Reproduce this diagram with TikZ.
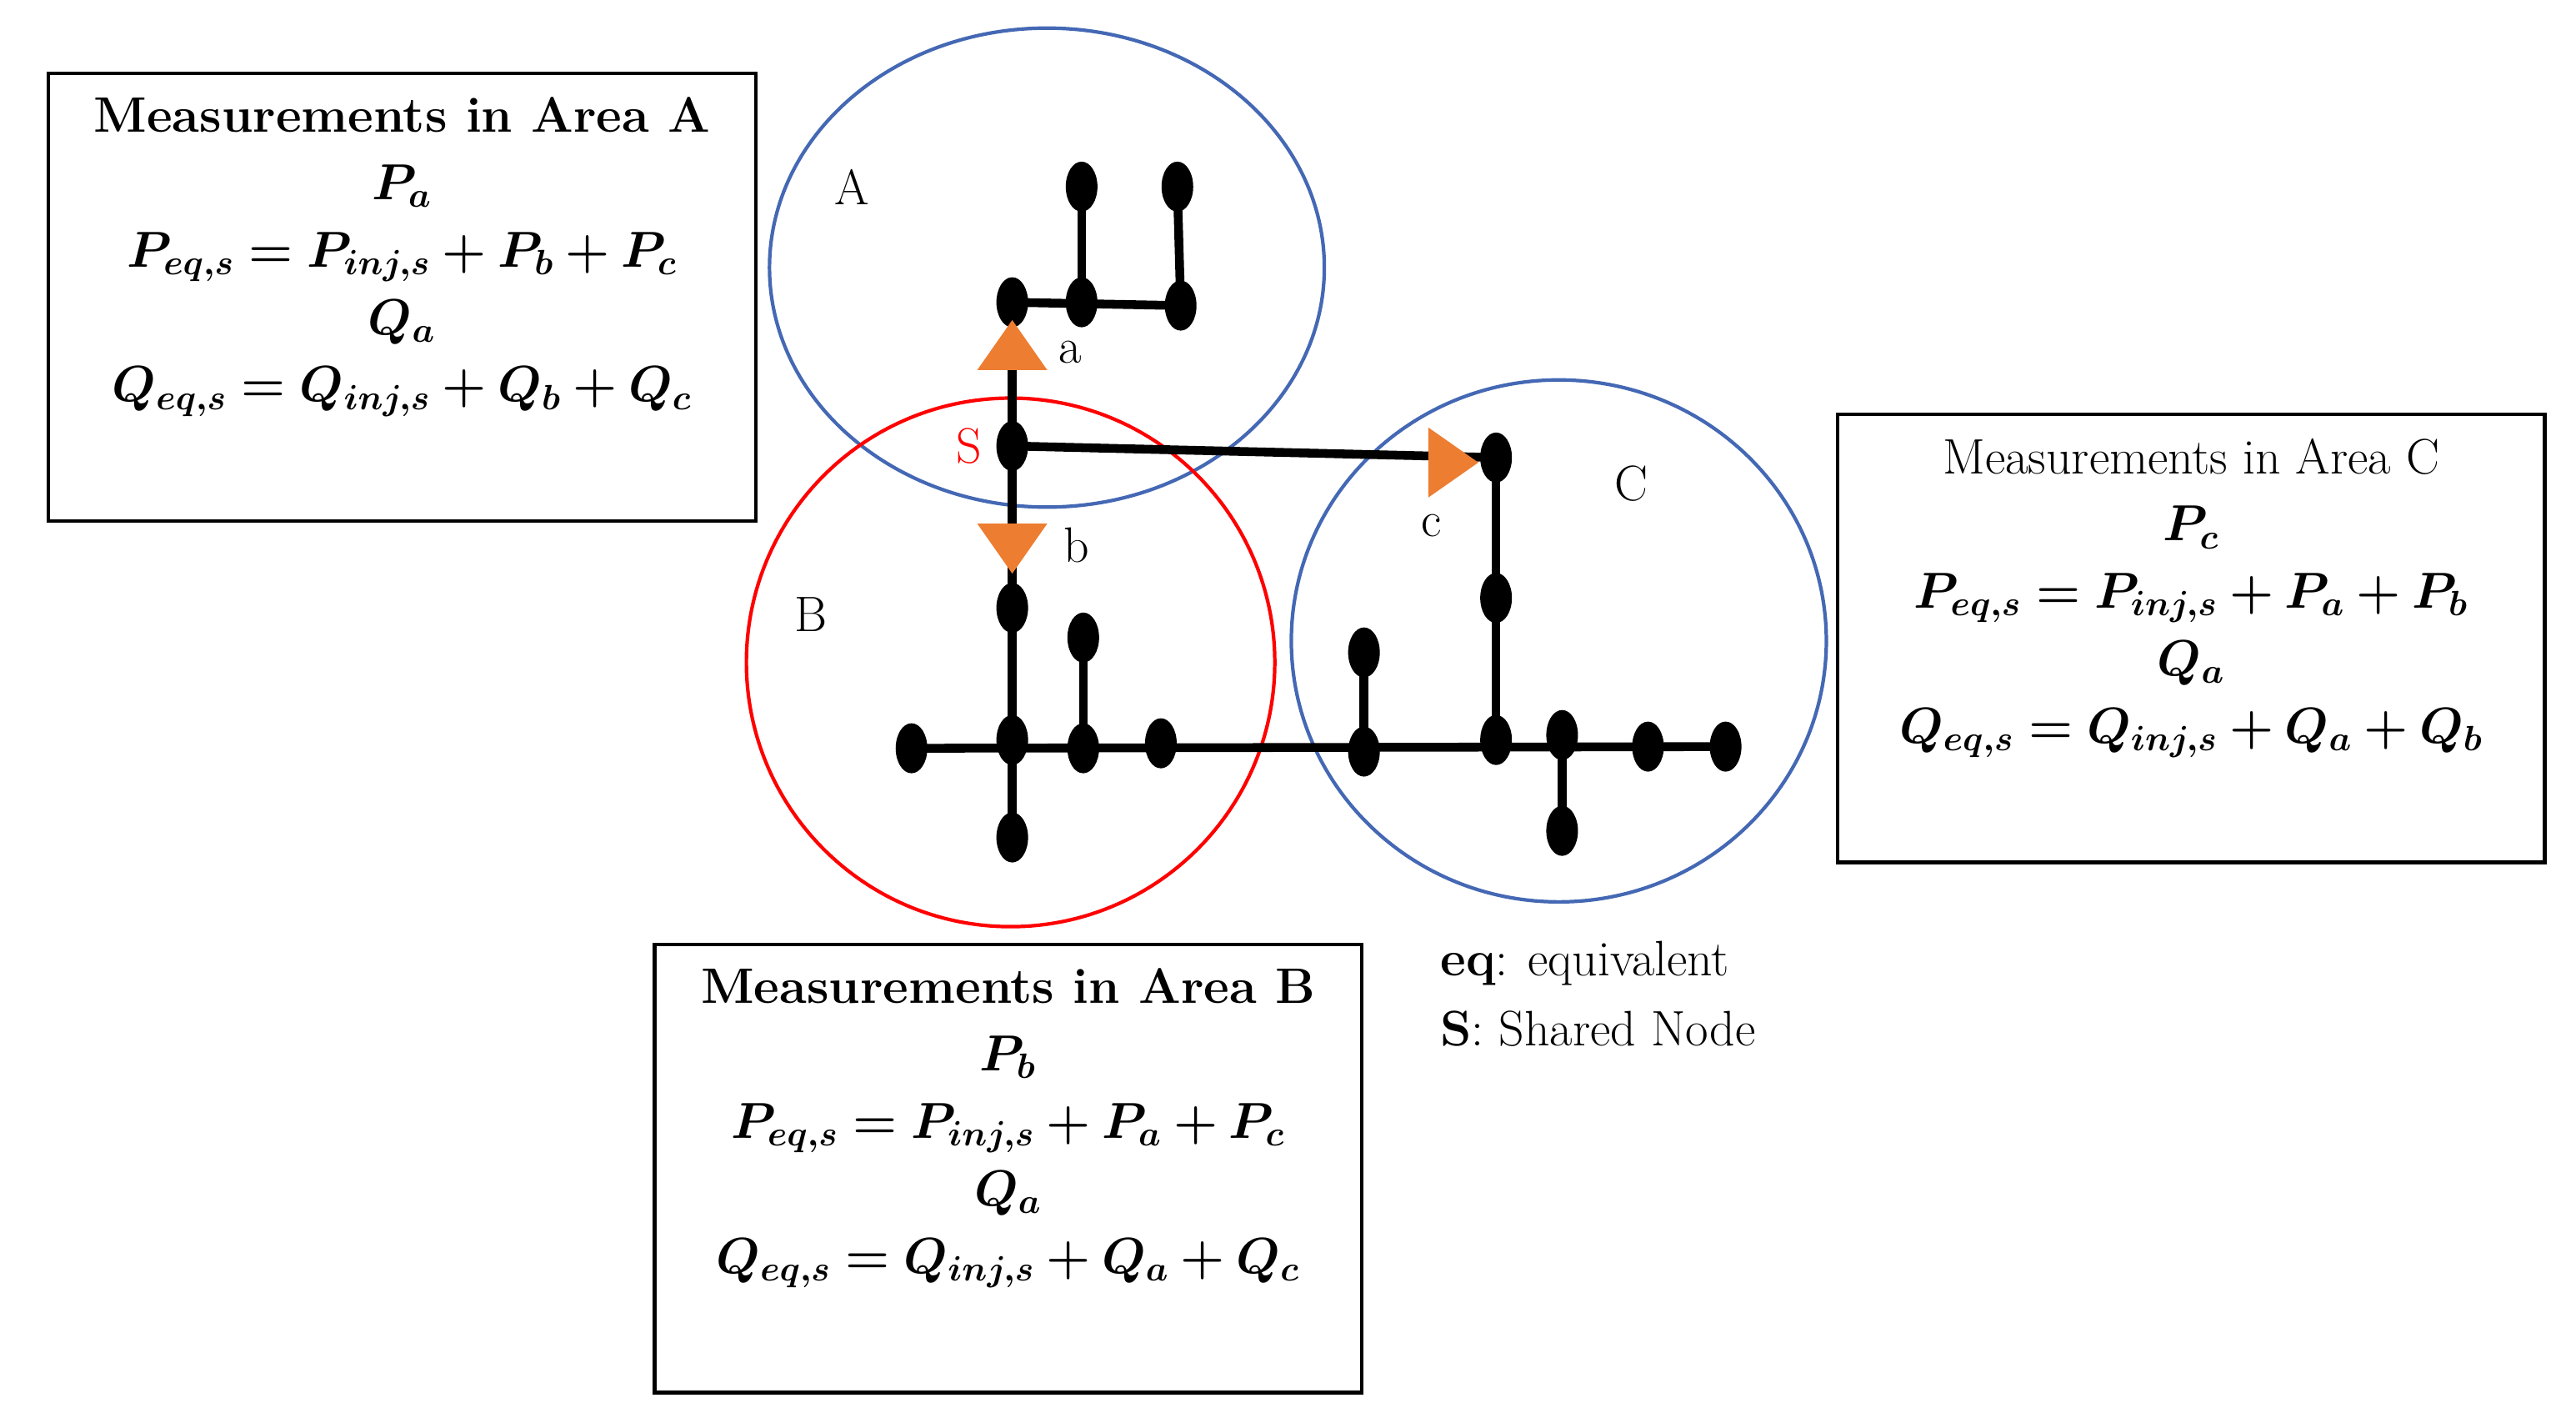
\documentclass[tikz,border=0pt]{standalone}
\usepackage{amsmath}
\usepackage{bm}
\usetikzlibrary{shapes.geometric}
\definecolor{areablue}{RGB}{68,104,180}
\definecolor{arrorange}{RGB}{237,125,49}
\begin{document}
\begin{tikzpicture}[x=0.0198cm, y=-0.0198cm,
    bus/.style={ellipse, fill=black, minimum width=0.38cm, minimum height=0.6cm, inner sep=0pt},
    line/.style={line width=3pt, black},
    flow/.style={isosceles triangle, isosceles triangle apex angle=70, fill=arrorange,
        minimum height=0.6cm, inner sep=0pt},
    area/.style={line width=1.2pt},
    mbox/.style={draw, line width=1.2pt, inner sep=0pt, minimum width=8.48cm, minimum height=5.37cm},
    mtext/.style={anchor=north, align=center, inner sep=0pt, font=\fontsize{17}{23}\selectfont},
    lbl/.style={font=\fontsize{17}{20}\selectfont}
]
    \useasboundingbox (0,0) rectangle (1560,858);
    % areas
    \draw[area, areablue] (634,162) ellipse (168 and 145);
    \draw[area, red] (612,401) ellipse (160 and 160);
    \draw[area, areablue] (944,388) ellipse (162 and 158);
    \node[lbl] at (516,113) {A};
    \node[lbl] at (491,372) {B};
    \node[lbl] at (988,293) {C};
    % buses
    \node[bus] (a1) at (613,183) {};
    \node[bus] (a2) at (655,183) {};
    \node[bus] (a3) at (715,185) {};
    \node[bus] (a4) at (655,113) {};
    \node[bus] (a5) at (713,113) {};
    \node[bus] (s) at (613,270) {};
    \node[bus] (c1) at (906,277) {};
    \node[bus] (c2) at (906,362) {};
    \node[bus] (c3) at (906,448) {};
    \node[bus] (b1) at (613,368) {};
    \node[bus] (b2) at (613,448) {};
    \node[bus] (b3) at (613,507) {};
    \node[bus] (h1) at (552,453) {};
    \node[bus] (h2) at (656,453) {};
    \node[bus] (h3) at (703,450) {};
    \node[bus] (h4) at (826,455) {};
    \node[bus] (h5) at (946,445) {};
    \node[bus] (h6) at (998,452) {};
    \node[bus] (h7) at (1045,452) {};
    \node[bus] (v1) at (656,386) {};
    \node[bus] (v2) at (826,395) {};
    \node[bus] (v3) at (946,503) {};
    % lines
    \draw[line] (a1.center) -- (a3.center);
    \draw[line] (a4.center) -- (a2.center);
    \draw[line] (a5.center) -- (a3.center);
    \draw[line] (a1.center) -- (b3.center);
    \draw[line] (s.center) -- (c1.center);
    \draw[line] (c1.center) -- (c3.center);
    \draw[line] (h1.center) -- (h7.center);
    \draw[line] (v1.center) -- (h2.center);
    \draw[line] (v2.center) -- (h4.center);
    \draw[line] (h5.center) -- (v3.center);
    % flows
    \node[flow, shape border rotate=90] (fa) at (613,213) {};
    \node[flow, shape border rotate=-90] (fb) at (613,328) {};
    \node[flow] (fc) at (876,280) {};
    \node[lbl] at (648,213) {a};
    \node[lbl] at (652,330) {b};
    \node[lbl] at (867,318) {c};
    \node[lbl, text=red] at (587,270) {S};
    % measurement boxes
    \node[mbox] (ma) at (243.5,180) {};
    \node[mtext] at ([yshift=-0.3cm]ma.north) {\textbf{Measurements in Area A}\\ $\bm{P_a}$\\
        $\bm{P_{eq,s}=P_{inj,s}+P_b+P_c}$\\ $\bm{Q_a}$\\ $\bm{Q_{eq,s}=Q_{inj,s}+Q_b+Q_c}$};
    \node[mbox] (mb) at (610.5,707.5) {};
    \node[mtext] at ([yshift=-0.3cm]mb.north) {\textbf{Measurements in Area B}\\ $\bm{P_b}$\\
        $\bm{P_{eq,s}=P_{inj,s}+P_a+P_c}$\\ $\bm{Q_a}$\\ $\bm{Q_{eq,s}=Q_{inj,s}+Q_a+Q_c}$};
    \node[mbox] (mc) at (1327,386.5) {};
    \node[mtext] at ([yshift=-0.3cm]mc.north) {Measurements in Area C\\ $\bm{P_c}$\\
        $\bm{P_{eq,s}=P_{inj,s}+P_a+P_b}$\\ $\bm{Q_a}$\\ $\bm{Q_{eq,s}=Q_{inj,s}+Q_a+Q_b}$};
    % legend
    \node[lbl, anchor=west] (eq) at (866,583) {\textbf{eq}: equivalent};
    \node[lbl, anchor=west] (sn) at (866,623) {\textbf{S}: Shared Node};
\end{tikzpicture}
\end{document}
